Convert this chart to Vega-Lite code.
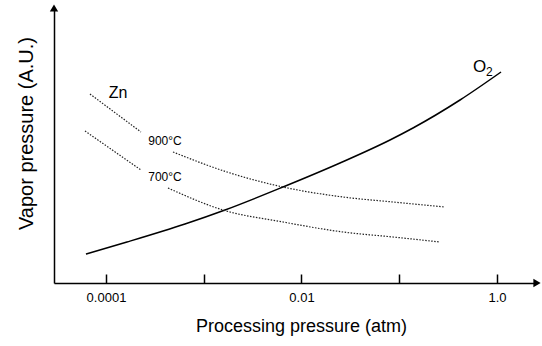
{
  "$schema": "https://vega.github.io/schema/vega-lite/v6.json",
  "width": 483,
  "height": 275,
  "autosize": {"type": "none"},
  "padding": {"left": 54, "top": 8, "right": 5, "bottom": 63},
  "background": "white",
  "config": {"view": {"stroke": null}, "font": "Liberation Sans", "axis": {"grid": false}},
  "datasets": {
    "curves": [
      {"p": 0.0000624, "v": 29, "series": "O2", "seg": "O2"},
      {"p": 0.000164, "v": 41, "series": "O2", "seg": "O2"},
      {"p": 0.000643, "v": 59, "series": "O2", "seg": "O2"},
      {"p": 0.00165, "v": 73, "series": "O2", "seg": "O2"},
      {"p": 0.00647, "v": 96, "series": "O2", "seg": "O2"},
      {"p": 0.02477, "v": 120, "series": "O2", "seg": "O2"},
      {"p": 0.0804, "v": 143, "series": "O2", "seg": "O2"},
      {"p": 0.1382, "v": 155, "series": "O2", "seg": "O2"},
      {"p": 0.4183, "v": 183, "series": "O2", "seg": "O2"},
      {"p": 1.099, "v": 211, "series": "O2", "seg": "O2"},
      {"p": 0.0000686, "v": 189, "series": "Zn 900", "seg": "900a"},
      {"p": 0.000228, "v": 151, "series": "Zn 900", "seg": "900a"},
      {"p": 0.000485, "v": 131, "series": "Zn 900", "seg": "900b"},
      {"p": 0.001729, "v": 111, "series": "Zn 900", "seg": "900b"},
      {"p": 0.00647, "v": 96, "series": "Zn 900", "seg": "900b"},
      {"p": 0.02659, "v": 86, "series": "Zn 900", "seg": "900b"},
      {"p": 0.0863, "v": 81, "series": "Zn 900", "seg": "900b"},
      {"p": 0.2938, "v": 76, "series": "Zn 900", "seg": "900b"},
      {"p": 0.000061, "v": 152, "series": "Zn 700", "seg": "700a"},
      {"p": 0.000228, "v": 113, "series": "Zn 700", "seg": "700a"},
      {"p": 0.000431, "v": 95, "series": "Zn 700", "seg": "700b"},
      {"p": 0.001574, "v": 73, "series": "Zn 700", "seg": "700b"},
      {"p": 0.00647, "v": 61, "series": "Zn 700", "seg": "700b"},
      {"p": 0.02659, "v": 51, "series": "Zn 700", "seg": "700b"},
      {"p": 0.0863, "v": 46, "series": "Zn 700", "seg": "700b"},
      {"p": 0.2612, "v": 41, "series": "Zn 700", "seg": "700b"}
    ],
    "tempLabels": [
      {"p": 0.0004015, "v": 142, "text": "900°C"},
      {"p": 0.0004015, "v": 106, "text": "700°C"}
    ],
    "znLabel": [{"p": 0.0001327, "v": 190, "text": "Zn"}],
    "o2Label": [{"p": 0.568, "v": 216, "main": "O", "sub": "2"}],
    "arrows": [
      {"p": 0.0000294, "v": 275, "dir": "up"},
      {"p": 2.565, "v": 0, "dir": "right"}
    ]
  },
  "layer": [
    {
      "data": {"name": "curves"},
      "transform": [{"filter": "datum.series == 'O2'"}],
      "mark": {"type": "line", "color": "black", "strokeWidth": 1.5, "interpolate": "monotone"},
      "encoding": {
        "x": {
          "field": "p", "type": "quantitative",
          "scale": {"type": "log", "domain": [0.0000294, 2.565], "nice": false},
          "axis": {
            "values": [0.0001, 0.001, 0.01, 0.1, 1],
            "labelExpr": "datum.value < 0.0002 ? '0.0001' : (datum.value > 0.005 && datum.value < 0.02) ? '0.01' : datum.value > 0.5 ? '1.0' : ''",
            "tickSize": -9, "tickWidth": 1.5, "tickColor": "black",
            "domainColor": "black", "domainWidth": 1.5,
            "labelFontSize": 13, "labelColor": "black", "labelPadding": 17,
            "title": "Processing pressure (atm)", "titleFontSize": 18,
            "titleFontWeight": "normal", "titleColor": "black",
            "titleX": 247, "titleY": 43, "titleBaseline": "middle"
          }
        },
        "y": {
          "field": "v", "type": "quantitative",
          "scale": {"domain": [0, 275], "nice": false, "zero": false},
          "axis": {
            "labels": false, "ticks": false,
            "domainColor": "black", "domainWidth": 1.5,
            "title": "Vapor pressure (A.U.)", "titleFontSize": 20,
            "titleFontWeight": "normal", "titleColor": "black",
            "titleX": -28, "titleY": 125, "titleBaseline": "middle", "titleAlign": "center", "titleAngle": -90
          }
        }
      }
    },
    {
      "data": {"name": "curves"},
      "transform": [{"filter": "datum.series != 'O2'"}],
      "mark": {"type": "line", "color": "#222", "strokeWidth": 1.2, "strokeDash": [1.5, 1.5], "interpolate": "monotone"},
      "encoding": {
        "x": {"field": "p", "type": "quantitative"},
        "y": {"field": "v", "type": "quantitative"},
        "detail": {"field": "seg"}
      }
    },
    {
      "data": {"name": "tempLabels"},
      "mark": {"type": "text", "fontSize": 12, "color": "black"},
      "encoding": {
        "x": {"field": "p", "type": "quantitative"},
        "y": {"field": "v", "type": "quantitative"},
        "text": {"field": "text"}
      }
    },
    {
      "data": {"name": "znLabel"},
      "mark": {"type": "text", "fontSize": 16, "color": "black"},
      "encoding": {
        "x": {"field": "p", "type": "quantitative"},
        "y": {"field": "v", "type": "quantitative"},
        "text": {"field": "text"}
      }
    },
    {
      "data": {"name": "o2Label"},
      "mark": {"type": "text", "fontSize": 17, "color": "black", "align": "left"},
      "encoding": {
        "x": {"field": "p", "type": "quantitative"},
        "y": {"field": "v", "type": "quantitative"},
        "text": {"field": "main"}
      }
    },
    {
      "data": {"name": "o2Label"},
      "mark": {"type": "text", "fontSize": 12, "color": "black", "align": "left", "dx": 13, "dy": 5},
      "encoding": {
        "x": {"field": "p", "type": "quantitative"},
        "y": {"field": "v", "type": "quantitative"},
        "text": {"field": "sub"}
      }
    },
    {
      "data": {"name": "arrows"},
      "transform": [{"filter": "datum.dir == 'up'"}],
      "mark": {"type": "point", "shape": "triangle-up", "filled": true, "fill": "black", "stroke": null, "size": 70, "opacity": 1, "fillOpacity": 1, "clip": false},
      "encoding": {
        "x": {"field": "p", "type": "quantitative"},
        "y": {"field": "v", "type": "quantitative"}
      }
    },
    {
      "data": {"name": "arrows"},
      "transform": [{"filter": "datum.dir == 'right'"}],
      "mark": {"type": "point", "shape": "triangle-right", "filled": true, "fill": "black", "stroke": null, "size": 70, "opacity": 1, "fillOpacity": 1, "clip": false},
      "encoding": {
        "x": {"field": "p", "type": "quantitative"},
        "y": {"field": "v", "type": "quantitative"}
      }
    }
  ]
}
